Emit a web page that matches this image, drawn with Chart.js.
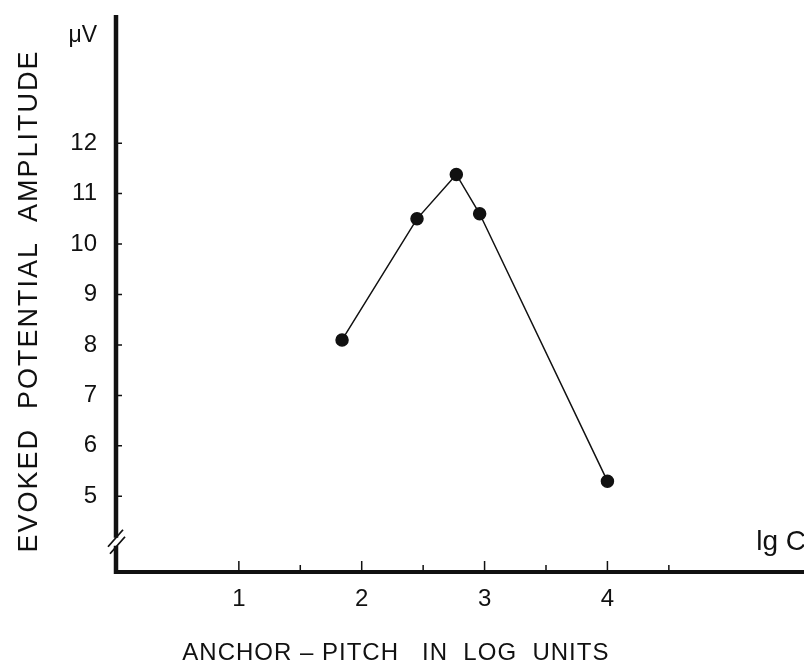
<!DOCTYPE html>
<html>
<head>
<meta charset="utf-8">
<script src="https://cdn.jsdelivr.net/npm/chart.js@4"></script>
<style>
  html, body { margin: 0; padding: 0; background: #fff; }
  #wrap { width: 804px; height: 663px; position: relative; }
</style>
</head>
<body>
<div id="wrap"><canvas id="ampChart"></canvas></div>
<script>
// anchor pitch (log units) vs evoked potential amplitude (microvolts)
const anchorLog = [1.84, 2.45, 2.77, 2.96, 4.0];
const amplitude = [8.1, 10.5, 11.38, 10.6, 5.3];
const yTickValues = [5, 6, 7, 8, 9, 10, 11, 12];
const xTickLabels = [1, 2, 3, 4];
const xMarkValues = [1, 1.5, 2, 2.5, 3, 3.5, 4, 4.5];

const FONT = "'Liberation Sans', Arial, sans-serif";
const INK = '#111';

// axes drawn by hand so the tick marks point inward like the original
const axisPlugin = {
    id: 'axisPlugin',
    afterDraw(chart) {
        const ctx = chart.ctx;
        const area = chart.chartArea;
        const xs = chart.scales.x;
        const ys = chart.scales.y;
        const breakY = ys.getPixelForValue(4.1);

        ctx.save();
        ctx.strokeStyle = INK;
        ctx.lineCap = 'butt';

        // y axis, with a gap for the break
        ctx.lineWidth = 4.5;
        ctx.beginPath();
        ctx.moveTo(area.left, area.top);
        ctx.lineTo(area.left, breakY - 4);
        ctx.moveTo(area.left, breakY + 4);
        ctx.lineTo(area.left, area.bottom + 2);
        ctx.stroke();

        // x axis
        ctx.lineWidth = 4;
        ctx.beginPath();
        ctx.moveTo(area.left - 2, area.bottom);
        ctx.lineTo(area.right, area.bottom);
        ctx.stroke();

        // break marks
        ctx.lineWidth = 1.8;
        ctx.beginPath();
        ctx.moveTo(area.left - 8, breakY + 5);
        ctx.lineTo(area.left + 7, breakY - 12);
        ctx.moveTo(area.left - 6, breakY + 12);
        ctx.lineTo(area.left + 9, breakY - 5);
        ctx.stroke();

        // y ticks
        ctx.lineWidth = 1.5;
        ctx.beginPath();
        yTickValues.forEach(function (v) {
            const py = ys.getPixelForValue(v);
            ctx.moveTo(area.left, py);
            ctx.lineTo(area.left + 6, py);
        });
        // x ticks
        xMarkValues.forEach(function (v) {
            const px = xs.getPixelForValue(v);
            const len = Number.isInteger(v) ? 11 : 7;
            ctx.moveTo(px, area.bottom);
            ctx.lineTo(px, area.bottom - len);
        });
        ctx.stroke();

        // unit labels
        ctx.fillStyle = INK;
        ctx.textBaseline = 'alphabetic';
        ctx.font = '23px ' + FONT;
        ctx.textAlign = 'right';
        ctx.fillText('\u03bcV', area.left - 19, 42);
        ctx.font = '28px ' + FONT;
        ctx.textAlign = 'right';
        ctx.fillText('lg C', area.right + 2, area.bottom - 22);

        // axis titles, spaced out like the original lettering
        ctx.letterSpacing = '1px';
        ctx.font = '24px ' + FONT;
        ctx.textAlign = 'left';
        ctx.fillText('ANCHOR \u2013 PITCH   IN  LOG  UNITS', xs.getPixelForValue(0.54), 660);

        ctx.letterSpacing = '2px';
        ctx.font = '27px ' + FONT;
        ctx.translate(37, 301);
        ctx.rotate(-Math.PI / 2);
        ctx.textAlign = 'center';
        ctx.fillText('EVOKED  POTENTIAL  AMPLITUDE', 0, 0);
        ctx.restore();
    }
};

const ctx = document.getElementById('ampChart').getContext('2d');
const ampChart = new Chart(ctx, {
    type: 'scatter',
    data: {
        datasets: [{
            label: 'Evoked potential',
            data: anchorLog.map(function (x, i) { return { x: x, y: amplitude[i] }; }),
            showLine: true,
            borderColor: INK,
            borderWidth: 1.5,
            backgroundColor: INK,
            pointRadius: 6,
            pointHoverRadius: 6,
            tension: 0
        }]
    },
    options: {
        responsive: true,
        maintainAspectRatio: false,
        animation: false,
        layout: { autoPadding: false, padding: { top: 15, right: 0, left: 0, bottom: 0 } },
        plugins: {
            legend: { display: false },
            tooltip: { enabled: false }
        },
        scales: {
            x: {
                type: 'linear',
                min: 0,
                max: 5.6,
                grid: { display: false, drawTicks: false },
                border: { display: false },
                afterBuildTicks: function (scale) {
                    scale.ticks = xTickLabels.map(function (v) { return { value: v }; });
                },
                afterFit: function (scale) {
                    scale.height = 91;
                    scale.paddingLeft = 0;
                    scale.paddingRight = 0;
                },
                ticks: {
                    color: INK,
                    padding: 13,
                    maxRotation: 0,
                    font: { family: FONT, size: 24 }
                }
            },
            y: {
                type: 'linear',
                min: 3.5,
                max: 14.54,
                grid: { display: false, drawTicks: false },
                border: { display: false },
                afterBuildTicks: function (scale) {
                    scale.ticks = yTickValues.map(function (v) { return { value: v }; });
                },
                afterFit: function (scale) {
                    scale.width = 116;
                    scale.paddingTop = 0;
                    scale.paddingBottom = 0;
                },
                ticks: {
                    color: INK,
                    padding: 19,
                    font: { family: FONT, size: 24 }
                }
            }
        }
    },
    plugins: [axisPlugin]
});
</script>
</body>
</html>
